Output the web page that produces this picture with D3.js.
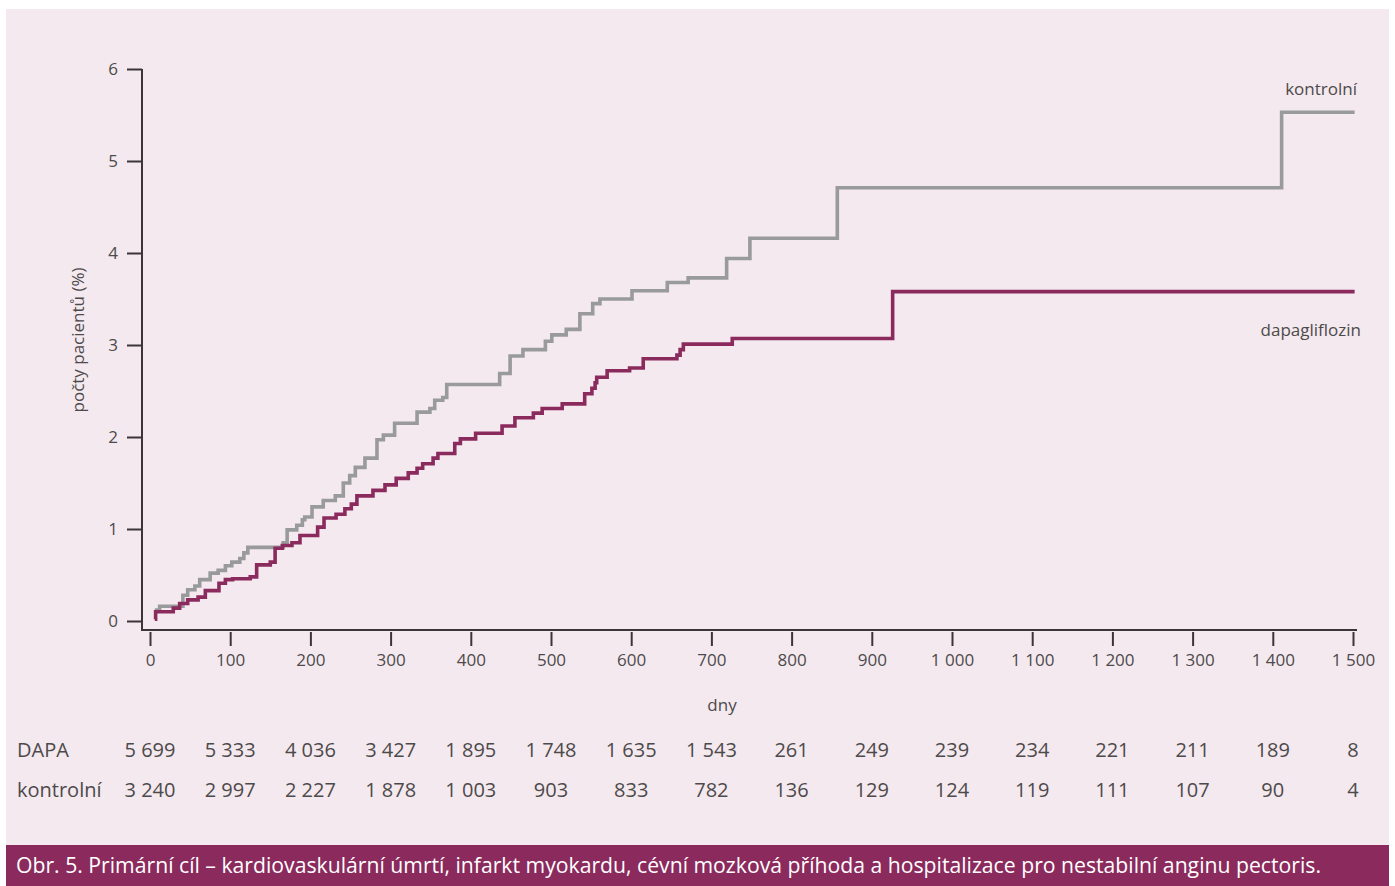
<!DOCTYPE html>
<html>
<head>
<meta charset="utf-8">
<script src="https://cdn.jsdelivr.net/npm/d3@7"></script>
<style>
  body { margin: 0; background: #fff; }
  text { font-family: "Open Sans", "Noto Sans", sans-serif; }
</style>
</head>
<body>
<div class="chart"></div>
<script>
var svgWidth = 1395;
var svgHeight = 886;

// step points: [day, % of patients] - value holds from this day on
var kontrolni = [
  [6, 0.12], [12, 0.16], [41, 0.28], [47, 0.34], [56, 0.38], [62, 0.45], [75, 0.52],
  [85, 0.55], [94, 0.60], [102, 0.64], [112, 0.68], [117, 0.74], [122, 0.80],
  [166, 0.85], [171, 0.99], [183, 1.04], [190, 1.10], [193, 1.13], [202, 1.24],
  [216, 1.31], [231, 1.36], [241, 1.50], [249, 1.58], [256, 1.67], [268, 1.77],
  [283, 1.97], [291, 2.02], [305, 2.15], [333, 2.27], [349, 2.31], [355, 2.40],
  [365, 2.43], [370, 2.57], [436, 2.69], [449, 2.88], [465, 2.95], [493, 3.04],
  [501, 3.11], [519, 3.17], [536, 3.34], [552, 3.45], [561, 3.50], [601, 3.59],
  [645, 3.68], [671, 3.73], [719, 3.94], [748, 4.16], [857, 4.71], [1411, 5.53],
  [1502, 5.53]
];

var dapagliflozin = [
  [6, 0.02], [7, 0.10], [29, 0.14], [37, 0.19], [47, 0.23], [60, 0.26], [69, 0.33],
  [86, 0.41], [94, 0.45], [103, 0.46], [125, 0.48], [133, 0.61], [150, 0.64],
  [156, 0.79], [165, 0.82], [177, 0.85], [187, 0.93], [209, 1.02], [217, 1.12],
  [232, 1.16], [243, 1.22], [251, 1.27], [258, 1.36], [278, 1.42], [293, 1.48],
  [307, 1.55], [322, 1.61], [333, 1.66], [340, 1.71], [353, 1.77], [359, 1.82],
  [380, 1.93], [387, 1.98], [406, 2.04], [439, 2.12], [455, 2.21], [478, 2.26],
  [489, 2.31], [514, 2.36], [542, 2.47], [551, 2.53], [555, 2.59], [557, 2.65],
  [570, 2.72], [598, 2.75], [615, 2.85], [657, 2.89], [661, 2.95], [665, 3.01],
  [726, 3.07], [926, 3.58], [1502, 3.58]
];

var xTicks = [0, 100, 200, 300, 400, 500, 600, 700, 800, 900, 1000, 1100, 1200, 1300, 1400, 1500];
var yTicks = [0, 1, 2, 3, 4, 5, 6];

var riskLabels = ["DAPA", "kontrolní"];
var riskDapa = ["5 699", "5 333", "4 036", "3 427", "1 895", "1 748", "1 635", "1 543",
  "261", "249", "239", "234", "221", "211", "189", "8"];
var riskKontrolni = ["3 240", "2 997", "2 227", "1 878", "1 003", "903", "833", "782",
  "136", "129", "124", "119", "111", "107", "90", "4"];

var caption = "Obr. 5. Primární cíl – kardiovaskulární úmrtí, infarkt myokardu, cévní mozková příhoda a hospitalizace pro nestabilní anginu pectoris.";

var svg = d3.select(".chart")
  .append("svg")
  .attr("width", svgWidth)
  .attr("height", svgHeight);

// panel + caption bar
svg.append("rect")
  .attr("x", 6).attr("y", 9)
  .attr("width", 1383).attr("height", 837)
  .attr("fill", "#f4e9ee");

svg.append("rect")
  .attr("x", 6).attr("y", 845)
  .attr("width", 1383).attr("height", 41)
  .attr("fill", "#8b2a5d");

svg.append("text")
  .attr("x", 16).attr("y", 873)
  .attr("fill", "#fff")
  .attr("font-size", "21.2px")
  .text(caption);

// scales
var x = d3.scaleLinear().domain([0, 1500]).range([150, 1353]);
var y = d3.scaleLinear().domain([0, 6]).range([621, 69]);

// frame lines
svg.append("path")
  .attr("d", "M142," + y(6) + "V630H1357")
  .attr("fill", "none")
  .attr("stroke", "#3b3538")
  .attr("stroke-width", 2);

var leftAxis = d3.axisLeft(y).tickValues(yTicks).tickSize(15).tickPadding(9)
  .tickFormat(d3.format("d"));
var yAxis = svg.append("g")
  .attr("transform", "translate(142,0)")
  .call(leftAxis);

var bottomAxis = d3.axisBottom(x).tickValues(xTicks).tickSize(14).tickPadding(8)
  .tickFormat(d => d3.format(",")(d).replace(",", " "));
var xAxis = svg.append("g")
  .attr("transform", "translate(0,632)")
  .call(bottomAxis);

[yAxis, xAxis].forEach(function (g) {
  g.select(".domain").remove();
  g.selectAll(".tick line").attr("stroke", "#3b3538").attr("stroke-width", 2);
  g.selectAll(".tick text")
    .attr("fill", "#4d4a4c")
    .style("font-family", "'Open Sans', sans-serif")
    .style("font-size", "17px");
});

// axis titles
svg.append("text")
  .attr("transform", "translate(84,340) rotate(-90)")
  .attr("text-anchor", "middle")
  .attr("fill", "#4d4a4c")
  .attr("font-size", "17px")
  .text("počty pacientů (%)");

svg.append("text")
  .attr("x", 722).attr("y", 711)
  .attr("text-anchor", "middle")
  .attr("fill", "#4d4a4c")
  .attr("font-size", "17px")
  .text("dny");

// curves
var line = d3.line()
  .x(d => x(d[0]))
  .y(d => y(d[1]))
  .curve(d3.curveStepAfter);

svg.append("path")
  .datum(kontrolni)
  .attr("d", line)
  .attr("fill", "none")
  .attr("stroke", "#999a9c")
  .attr("stroke-width", 3.6);

svg.append("path")
  .datum(dapagliflozin)
  .attr("d", line)
  .attr("fill", "none")
  .attr("stroke", "#8b2a5d")
  .attr("stroke-width", 3.6);

// series labels
svg.append("text")
  .attr("x", 1357).attr("y", 95)
  .attr("text-anchor", "end")
  .attr("fill", "#4d4a4c")
  .attr("font-size", "17px")
  .text("kontrolní");

svg.append("text")
  .attr("x", 1361).attr("y", 336)
  .attr("text-anchor", "end")
  .attr("fill", "#4d4a4c")
  .attr("font-size", "17px")
  .text("dapagliflozin");

// numbers at risk
var rows = [riskDapa, riskKontrolni];
rows.forEach(function (vals, i) {
  var ry = 757 + i * 40;
  svg.append("text")
    .attr("x", 17).attr("y", ry)
    .attr("fill", "#4d4a4c")
    .attr("font-size", "20px")
    .text(riskLabels[i]);
  svg.selectAll(".risk" + i)
    .data(vals)
    .enter()
    .append("text")
    .attr("class", "risk" + i)
    .attr("x", (d, j) => x(xTicks[j]))
    .attr("y", ry)
    .attr("text-anchor", "middle")
    .attr("fill", "#4d4a4c")
    .attr("font-size", "20px")
    .text(d => d);
});
</script>
</body>
</html>
